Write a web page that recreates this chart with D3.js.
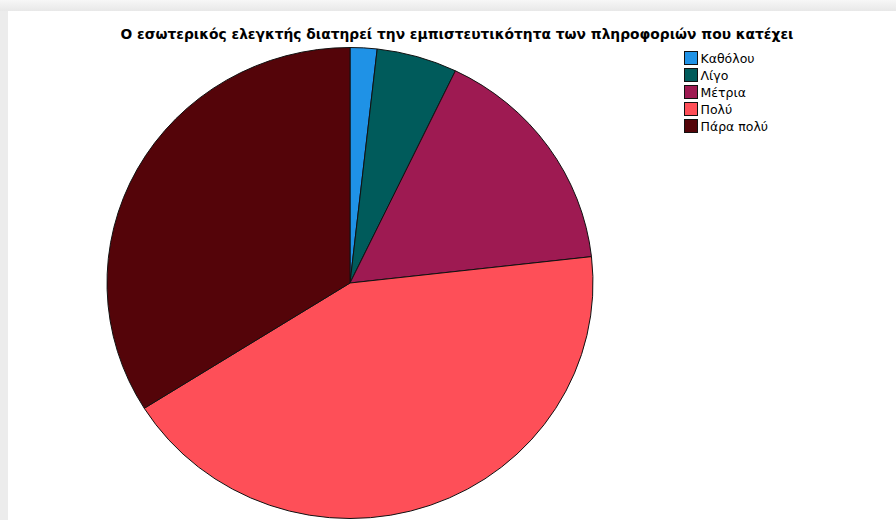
<!DOCTYPE html>
<html>
<head>
<meta charset="utf-8">
<script src="https://cdn.jsdelivr.net/npm/d3@7"></script>
<style>
  html, body { margin: 0; padding: 0; background: #ffffff; }
  svg { display: block; }
</style>
</head>
<body>
<svg id="chart" width="896" height="520"></svg>
<script>
// Responses per answer category
const categories = ["Καθόλου", "Λίγο", "Μέτρια", "Πολύ", "Πάρα πολύ"];
const counts = [1, 3, 9, 24, 19];
const colors = ["#1f92e6", "#005b5b", "#9e1a52", "#fe4f58", "#540409"];
const titleText = "Ο εσωτερικός ελεγκτής διατηρεί την εμπιστευτικότητα των πληροφοριών που κατέχει";

const W = 896, H = 520;
const svg = d3.select("#chart");

// panel background with grey frame along top and left
svg.append("rect").attr("x", 0).attr("y", 0).attr("width", W).attr("height", H).attr("fill", "#ececec");
const grad = svg.append("defs").append("linearGradient").attr("id", "topfade").attr("x1", 0).attr("x2", 0).attr("y1", 0).attr("y2", 1);
grad.append("stop").attr("offset", "0%").attr("stop-color", "#f7f7f7");
grad.append("stop").attr("offset", "100%").attr("stop-color", "#e8e8e8");
svg.append("rect").attr("x", 0).attr("y", 0).attr("width", W).attr("height", 11).attr("fill", "url(#topfade)");
svg.append("rect").attr("x", 8).attr("y", 11).attr("width", W - 8).attr("height", H - 11).attr("fill", "#ffffff");

// title, sized to span the header width
const title = svg.append("text")
  .attr("x", 457).attr("y", 39)
  .attr("text-anchor", "middle")
  .attr("font-family", "DejaVu Sans, Verdana, sans-serif")
  .attr("font-weight", "bold")
  .attr("font-size", 14)
  .attr("fill", "#000")
  .text(titleText);
const tw = title.node().getComputedTextLength();
if (tw > 0) title.attr("font-size", 14 * 674 / tw);

// pie, slightly wider than tall
const cx = 350, cy = 283, ry = 235.5, sx = 243 / 235.5;
const pie = d3.pie().sort(null).value(d => d)(counts);
const arc = d3.arc().innerRadius(0).outerRadius(ry);
const g = svg.append("g").attr("transform", `translate(${cx},${cy}) scale(${sx},1)`);
g.selectAll("path")
  .data(pie)
  .join("path")
  .attr("d", arc)
  .attr("fill", (d, i) => colors[i])
  .attr("stroke", "#111")
  .attr("stroke-width", 1)
  .attr("vector-effect", "non-scaling-stroke")
  .attr("stroke-linejoin", "round");

// legend
const leg = svg.append("g").attr("transform", "translate(684,51)");
const rows = leg.selectAll("g").data(categories).join("g")
  .attr("transform", (d, i) => `translate(0,${i * 17})`);
rows.append("rect")
  .attr("x", 0.5).attr("y", 0.5)
  .attr("width", 13).attr("height", 13)
  .attr("fill", (d, i) => colors[i])
  .attr("stroke", "#111").attr("stroke-width", 1);
rows.append("text")
  .attr("x", 16.5).attr("y", 11.5)
  .attr("font-family", "DejaVu Sans, Verdana, sans-serif")
  .attr("font-size", 12.5)
  .attr("fill", "#000")
  .text(d => d);
</script>
</body>
</html>
